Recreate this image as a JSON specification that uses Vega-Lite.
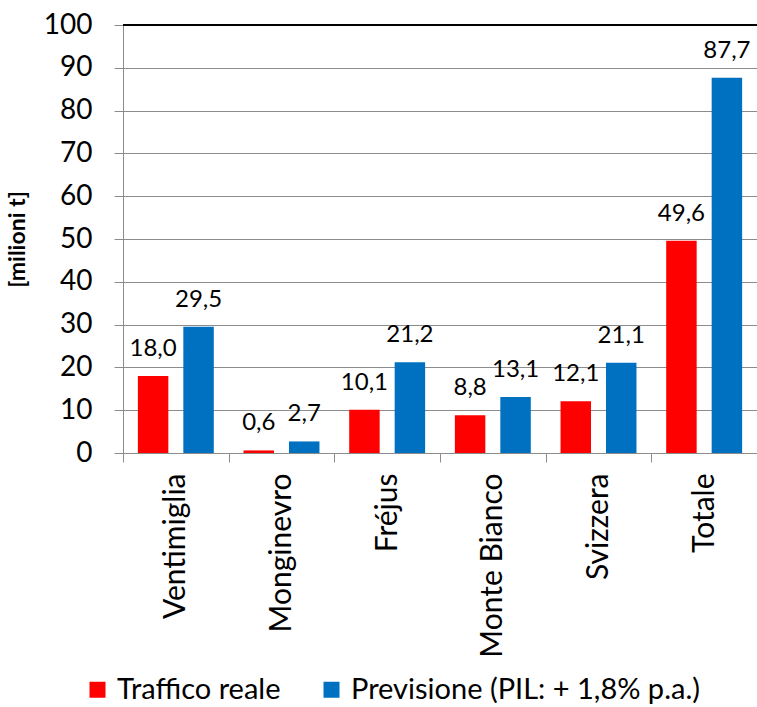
{
  "$schema": "https://vega.github.io/schema/vega-lite/v6.json",
  "autosize": {"type": "none"},
  "width": 634,
  "height": 428,
  "padding": {"left": 123, "top": 25, "right": 0, "bottom": 254},
  "background": "white",
  "data": {
    "values": [
      {"passo": "Ventimiglia", "serie": "Traffico reale", "valore": 18.0},
      {"passo": "Ventimiglia", "serie": "Previsione (PIL: + 1,8% p.a.)", "valore": 29.5},
      {"passo": "Monginevro", "serie": "Traffico reale", "valore": 0.6},
      {"passo": "Monginevro", "serie": "Previsione (PIL: + 1,8% p.a.)", "valore": 2.7},
      {"passo": "Fréjus", "serie": "Traffico reale", "valore": 10.1},
      {"passo": "Fréjus", "serie": "Previsione (PIL: + 1,8% p.a.)", "valore": 21.2},
      {"passo": "Monte Bianco", "serie": "Traffico reale", "valore": 8.8},
      {"passo": "Monte Bianco", "serie": "Previsione (PIL: + 1,8% p.a.)", "valore": 13.1},
      {"passo": "Svizzera", "serie": "Traffico reale", "valore": 12.1},
      {"passo": "Svizzera", "serie": "Previsione (PIL: + 1,8% p.a.)", "valore": 21.1},
      {"passo": "Totale", "serie": "Traffico reale", "valore": 49.6},
      {"passo": "Totale", "serie": "Previsione (PIL: + 1,8% p.a.)", "valore": 87.7}
    ]
  },
  "layer": [
    {
      "mark": {"type": "bar"},
      "encoding": {
        "x": {
          "field": "passo",
          "type": "nominal",
          "sort": ["Ventimiglia", "Monginevro", "Fréjus", "Monte Bianco", "Svizzera", "Totale"],
          "scale": {"paddingInner": 0, "paddingOuter": 0},
          "axis": {
            "title": null,
            "labelAngle": -90,
            "labelFont": "Lato",
            "labelFontSize": 30,
            "labelColor": "black",
            "labelPadding": 11,
            "labelLimit": 400,
            "tickBand": "extent",
            "tickSize": 9,
            "tickColor": "#8c8c8c",
            "domainColor": "#8c8c8c",
            "grid": false
          }
        },
        "xOffset": {
          "field": "serie",
          "type": "nominal",
          "sort": ["Traffico reale", "Previsione (PIL: + 1,8% p.a.)"],
          "scale": {"paddingInner": 0.33, "paddingOuter": 0.327}
        },
        "y": {
          "field": "valore",
          "type": "quantitative",
          "scale": {"domain": [0, 100], "nice": false},
          "axis": {
            "title": "[milioni t]",
            "titleFont": "Lato",
            "titleFontSize": 23,
            "titleFontWeight": "bold",
            "titleColor": "black",
            "titlePadding": 14,
            "values": [0, 10, 20, 30, 40, 50, 60, 70, 80, 90, 100],
            "labelFont": "Lato",
            "labelFontSize": 28,
            "labelColor": "black",
            "labelPadding": 22,
            "tickSize": 9,
            "tickColor": "#8c8c8c",
            "domainColor": "#8c8c8c",
            "gridColor": "#8c8c8c",
            "gridWidth": 1
          }
        },
        "color": {
          "field": "serie",
          "type": "nominal",
          "sort": ["Traffico reale", "Previsione (PIL: + 1,8% p.a.)"],
          "scale": {"range": ["#FF0000", "#0070C0"]},
          "legend": {
            "title": null,
            "orient": "none",
            "direction": "horizontal",
            "legendX": -40,
            "legendY": 650,
            "symbolType": "square",
            "symbolSize": 256,
            "symbolStrokeWidth": 0,
            "labelFont": "Lato",
            "labelFontSize": 29,
            "labelColor": "black",
            "labelOffset": 5,
            "columnPadding": 36,
            "labelLimit": 500
          }
        }
      }
    },
    {
      "mark": {"type": "text", "font": "Lato", "fontSize": 24, "baseline": "alphabetic", "dy": -20, "color": "black"},
      "encoding": {
        "x": {
          "field": "passo",
          "type": "nominal",
          "sort": ["Ventimiglia", "Monginevro", "Fréjus", "Monte Bianco", "Svizzera", "Totale"]
        },
        "xOffset": {
          "field": "serie",
          "type": "nominal",
          "sort": ["Traffico reale", "Previsione (PIL: + 1,8% p.a.)"]
        },
        "y": {"field": "valore", "type": "quantitative"},
        "text": {"field": "valore", "type": "quantitative", "format": ".1f"}
      }
    },
    {
      "mark": {"type": "rule", "color": "black", "strokeWidth": 2},
      "encoding": {"y": {"datum": 100}}
    }
  ],
  "config": {
    "view": {"stroke": null},
    "locale": {"number": {"decimal": ",", "thousands": ".", "grouping": [3], "currency": ["", " €"]}}
  }
}
